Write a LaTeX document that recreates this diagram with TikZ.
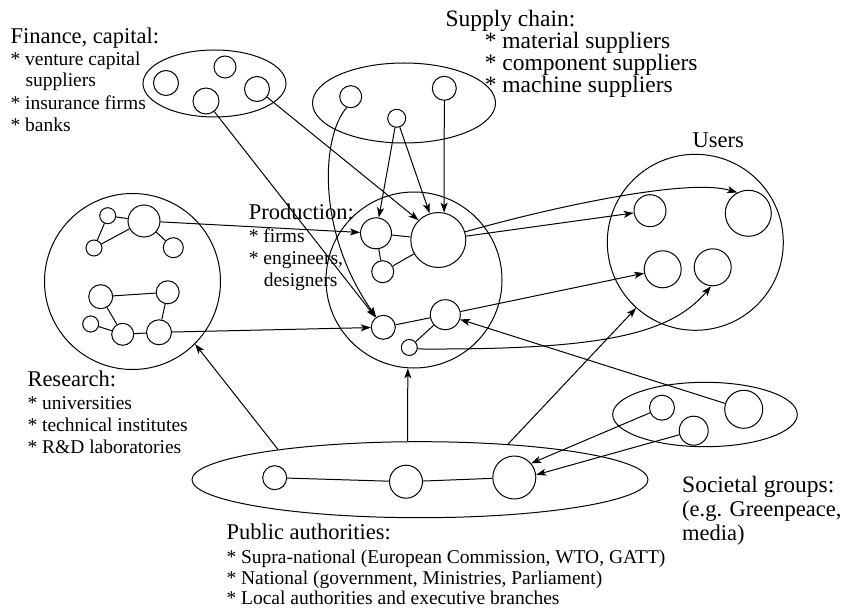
\documentclass[tikz,border=0pt]{standalone}
\usepackage{fontspec}
\setmainfont{Liberation Serif}
\usetikzlibrary{shapes.geometric,arrows.meta}
\begin{document}
\begin{tikzpicture}[x=1pt,y=-1pt,line width=1pt,
 cn/.style={circle,draw,inner sep=0pt,minimum size=#1pt},
 ov/.style={ellipse,draw,inner sep=0pt},
 arr/.style={-{Stealth[length=10pt,width=7pt,inset=2.5pt]}},
 hd/.style={anchor=base west,inner sep=0pt,font=\fontsize{22.5}{27}\selectfont},
 itm/.style={anchor=base west,inner sep=0pt,font=\fontsize{19.5}{23}\selectfont},
 bigt/.style={anchor=base west,inner sep=0pt,font=\fontsize{23.5}{28}\selectfont},
 soct/.style={anchor=base west,inner sep=0pt,font=\fontsize{22.5}{27}\selectfont}]
\useasboundingbox (0,0) rectangle (845,609);

% Finance
\node[ov,minimum width=143pt,minimum height=67pt] (fin) at (214.5,83.5) {};
\node[cn=25] (fin1) at (166,83) {};
\node[cn=22] (fin2) at (225,67) {};
\node[cn=26] (fin3) at (206,101) {};
\node[cn=25] (fin4) at (257,89) {};

% Supply chain
\node[ov,minimum width=183pt,minimum height=80pt] (sup) at (404,103) {};
\node[cn=22] (sup1) at (350.7,96.7) {};
\node[cn=18] (sup2) at (396.7,118.3) {};
\node[cn=24] (sup3) at (444.3,88.3) {};

% Research
\node[cn=176] (res) at (132.5,281.5) {};
\node[cn=16] (r1) at (107.7,215.7) {};
\node[cn=32] (r2) at (144,221) {};
\node[cn=16] (r3) at (94,248) {};
\node[cn=20] (r4) at (173.3,247.7) {};
\node[cn=24] (r5) at (100.7,296.7) {};
\node[cn=23] (r6) at (167.7,292.3) {};
\node[cn=16] (r7) at (90.7,324) {};
\node[cn=22] (r8) at (122.7,334.3) {};
\node[cn=25] (r9) at (159,332.3) {};
\draw (r1) -- (r2); \draw (r1) -- (r3); \draw (r3) -- (r2); \draw (r2) -- (r4);
\draw (r5) -- (r6); \draw (r5) -- (r8); \draw (r7) -- (r8); \draw (r8) -- (r9); \draw (r6) -- (r9);

% Production
\node[cn=176] (prod) at (414,280) {};
\node[cn=31] (pA) at (376,233.3) {};
\node[cn=55] (pB) at (438.3,240) {};
\node[cn=22] (pC) at (382.7,271.7) {};
\node[cn=24] (pD) at (383.3,327.3) {};
\node[cn=30] (pE) at (445.3,314.7) {};
\node[cn=16] (pF) at (409.3,347.5) {};
\draw (pA) -- (pB); \draw (pA) -- (pC); \draw (pC) -- (pB);
\draw (pD) -- (pE); \draw (pF) -- (pE);

% Users
\node[cn=176] (usr) at (695.3,242.3) {};
\node[cn=32] (u1) at (650,210.7) {};
\node[cn=46] (u2) at (748.3,213.3) {};
\node[cn=37] (u3) at (662.7,269.3) {};
\node[cn=37] (u4) at (712.7,267.3) {};

% Public authorities
\node[ov,minimum width=456pt,minimum height=76pt] (pub) at (420,479.7) {};
\node[cn=24] (q1) at (274.7,477.7) {};
\node[cn=33] (q2) at (406,481.7) {};
\node[cn=43] (q3) at (514.3,477.5) {};
\draw (q1) -- (q2); \draw (q2) -- (q3);

% Societal groups
\node[ov,minimum width=184.6pt,minimum height=64.4pt] (soc) at (705,414.5) {};
\node[cn=25] (s1) at (662,407.7) {};
\node[cn=29] (s2) at (693.7,430.7) {};
\node[cn=38] (s3) at (743.7,409.3) {};

% Connectors
\draw[arr] (fin4) -- (pB.135);
\draw[arr] (fin3) -- (pD);
\draw[arr] (sup1.250) .. controls (322,135) and (315,230) .. (pD.125);
\draw[arr] (sup2) -- (pA);
\draw[arr] (sup2) -- (pB.108);
\draw[arr] (sup3) -- (pB.78);
\draw[arr] (r2) -- (pA);
\draw[arr] (r9) -- (pD);
\draw[arr] (pB) -- (u1);
\draw[arr] (pB.17) .. controls (560,205) and (690,178) .. (u2.118);
\draw[arr] (pE) -- (u3);
\draw[arr] (pF.-10) .. controls (600,350) and (670,335) .. (u4.265);
\draw[arr] (s3) -- (pE);
\draw[arr] (s1) -- (q3.40);
\draw[arr] (s2) -- (q3.7);
\draw[arr] (pub.168) -- (res.-45);
\draw[arr] (pub.108) -- (prod.266);
\draw[arr] (pub.22) -- (usr.228);

% Texts
\node[hd] (tfin) at (10,44) {Finance, capital:};
\node[itm] (tfin1) at (10,65.7) {* venture capital};
\node[itm] (tfin2) at (25,87) {suppliers};
\node[itm] (tfin3) at (10,110) {* insurance firms};
\node[itm] (tfin4) at (10,131.7) {* banks};

\node[bigt] (tsup) at (445,26.7) {Supply chain:};
\node[bigt] (tsup1) at (484.3,48.5) {* material suppliers};
\node[bigt] (tsup2) at (484.3,70.5) {* component suppliers};
\node[bigt] (tsup3) at (484.3,92.5) {* machine suppliers};

\node[hd] (tprod) at (248.3,220) {Production:};
\node[itm] (tprod1) at (248.3,242.7) {* firms};
\node[itm] (tprod2) at (248.3,265) {* engineers,};
\node[itm] (tprod3) at (263.3,286.7) {designers};

\node[hd,anchor=base] (tusr) at (718.3,147.7) {Users};

\node[hd] (tres) at (27,386.7) {Research:};
\node[itm] (tres1) at (27,409.3) {* universities};
\node[itm] (tres2) at (27,431.7) {* technical institutes};
\node[itm] (tres3) at (27,453.3) {* R\&D laboratories};

\node[hd] (tpub) at (226,539.3) {Public authorities:};
\node[itm] (tpub1) at (226,563) {* Supra-national (European Commission, WTO, GATT)};
\node[itm] (tpub2) at (226,584) {* National (government, Ministries, Parliament)};
\node[itm] (tpub3) at (226,604.5) {* Local authorities and executive branches};

\node[bigt] (tsoc) at (681.7,492.7) {Societal groups:};
\node[soct] (tsoc1) at (681.7,516.7) {(e.g. Greenpeace,};
\node[soct] (tsoc2) at (681.7,540.7) {media)};
\end{tikzpicture}
\end{document}
